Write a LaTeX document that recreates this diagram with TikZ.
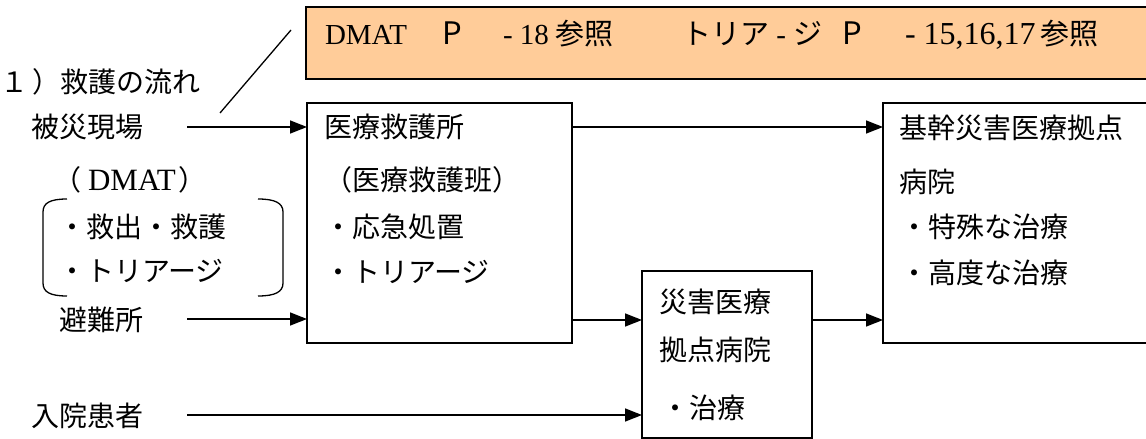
\documentclass[tikz,border=0pt]{standalone}
\usepackage{fontspec}
\setmainfont{Noto Sans CJK JP}
\newfontfamily\tms{Liberation Serif}
\usetikzlibrary{arrows.meta}
\definecolor{peach}{RGB}{255,204,153}
\begin{document}
\begin{tikzpicture}[x=1pt,y=-1pt,
  every node/.style={inner sep=0pt,outer sep=0pt},
  txt/.style={anchor=west,font=\fontsize{28}{30}\selectfont},
  otxt/.style={anchor=base west,font=\fontsize{29}{31}\selectfont},
  box/.style={draw,line width=1.5pt,anchor=north west},
  arr/.style={line width=1.5pt,-{Triangle[length=17pt,width=13pt]}},
  thin/.style={line width=1.3pt}]
\clip (0,0) rectangle (1146,439);
\useasboundingbox (0,0) rectangle (1146,439);
% boxes
\node[box,fill=peach,line width=1.8pt,minimum width=854pt,minimum height=72pt] (ref) at (306,7) {};
\node[box,minimum width=265pt,minimum height=240pt] (b1) at (307,103) {};
\node[box,minimum width=170pt,minimum height=167pt] (b2) at (642,271) {};
\node[box,minimum width=277pt,minimum height=240pt] (b3) at (883,103) {};
% orange box text
\node[otxt] (o1) at (325,44) {\tms DMAT};
\node[otxt,font=\fontsize{31}{33}\selectfont] (o2) at (442,44) {P};
\node[otxt] (o3) at (503,44) {\tms - 18};
\node[otxt] (o4) at (555,44) {参照};
\node[otxt] (o5) at (682,44) {トリア{\tms\ - }ジ};
\node[otxt,font=\fontsize{31}{33}\selectfont] (o6) at (842,44) {P};
\node[otxt,font=\fontsize{32}{34}\selectfont] (o7) at (905,44) {\tms - 15,16,17};
\node[otxt] (o8) at (1040,44) {参照};
% left texts
\node[txt] (title) at (0,82) {１\hspace{5pt}）救護の流れ};
\node[txt] (hisai) at (31,127) {被災現場};
\node[txt] (dmat) at (53,180) {（\hspace{7pt}{\tms\fontsize{31}{33}\selectfont DMAT}\hspace{3pt}）};
\node[txt] (k1) at (58,227) {・救出・救護};
\node[txt] (k2) at (58,271) {・トリアージ};
\node[txt] (hinan) at (59,320) {避難所};
\node[txt] (nyuin) at (31,416) {入院患者};
% box1 text
\node[txt] (a1) at (324,127) {医療救護所};
\node[txt] (a2) at (324,180) {（医療救護班）};
\node[txt] (a3) at (324,227) {・応急処置};
\node[txt] (a4) at (324,272) {・トリアージ};
% box2 text
\node[txt] (c1) at (659,302) {災害医療};
\node[txt] (c2) at (659,350) {拠点病院};
\node[txt] (c3) at (661,408) {・治療};
% box3 text
\node[txt] (d1) at (899,128) {基幹災害医療拠点};
\node[txt] (d2) at (899,182) {病院};
\node[txt] (d3) at (900,227) {・特殊な治療};
\node[txt] (d4) at (900,273) {・高度な治療};
% brackets
\draw[thin] (67,199) .. controls (50,199) and (43,203) .. (43,212) -- (43,283) .. controls (43,292) and (50,296) .. (67,296);
\draw[thin] (258,199) .. controls (275,199) and (283,203) .. (283,212) -- (283,283) .. controls (283,292) and (275,296) .. (258,296);
% diagonal line
\coordinate (dl1) at (220,113);
\coordinate (dl2) at (291,30);
\draw[thin] (dl1) -- (dl2);
% arrows
\coordinate (s1) at (187,127);
\coordinate (s2) at (187,319);
\coordinate (s3) at (187,415);
\draw[arr] (s1) -- (s1 -| b1.west);
\draw[arr] (s2) -- (s2 -| b1.west);
\draw[arr] (s3) -- (s3 -| b2.west);
\coordinate (m1) at (572,127);
\coordinate (m2) at (572,320);
\draw[arr] (m1 -| b1.east) -- (m1 -| b3.west);
\draw[arr] (m2 -| b1.east) -- (m2 -| b2.west);
\draw[arr] (m2 -| b2.east) -- (m2 -| b3.west);
\end{tikzpicture}
\end{document}
